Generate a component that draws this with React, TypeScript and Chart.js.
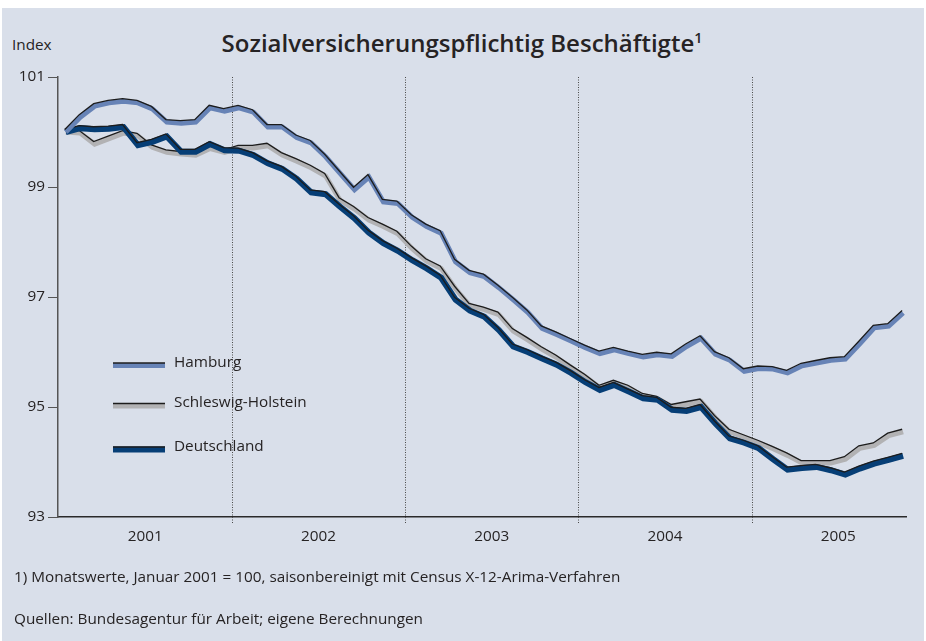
import React, { useEffect, useRef } from 'react';
import { Chart, registerables } from 'chart.js';

Chart.register(...registerables);

// ---- data ----
const YEARS = ['2001', '2002', '2003', '2004', '2005'];
const Y_TICKS = [93, 95, 97, 99, 101];
const SERIES_NAMES = ['Hamburg', 'Schleswig-Holstein', 'Deutschland'];

// monthly index values, Jan 2001 .. Nov 2005
const HAMBURG = [
  100.0, 100.27, 100.47, 100.53, 100.56, 100.53, 100.42, 100.18, 100.16, 100.18, 100.44, 100.38,
  100.44, 100.36, 100.09, 100.09, 99.9, 99.8, 99.55, 99.25, 98.95, 99.18, 98.73, 98.7,
  98.45, 98.28, 98.16, 97.64, 97.44, 97.37, 97.17, 96.95, 96.72, 96.43, 96.32, 96.2,
  96.08, 95.97, 96.04, 95.97, 95.91, 95.95, 95.92, 96.1, 96.25, 95.96, 95.85, 95.65,
  95.7, 95.69, 95.62, 95.75, 95.8, 95.85, 95.87, 96.15, 96.44, 96.47, 96.71,
];
const SCHLESWIG_HOLSTEIN = [
  100.0, 99.98, 99.78, 99.88, 99.98, 99.93, 99.72, 99.63, 99.6, 99.58, 99.7, 99.63,
  99.71, 99.71, 99.75, 99.58, 99.47, 99.35, 99.2, 98.76, 98.6, 98.4, 98.28, 98.15,
  97.88, 97.65, 97.52, 97.15, 96.84, 96.77, 96.68, 96.38, 96.22, 96.05, 95.9, 95.72,
  95.55, 95.35, 95.44, 95.35, 95.2, 95.15, 95.0, 95.05, 95.1, 94.8, 94.55, 94.45,
  94.35, 94.24, 94.12, 93.98, 93.98, 93.98, 94.05, 94.25, 94.3, 94.48, 94.55,
];
const DEUTSCHLAND = [
  100.0, 100.07, 100.05, 100.06, 100.09, 99.76, 99.82, 99.92, 99.64, 99.64, 99.78, 99.67,
  99.66, 99.58, 99.43, 99.33, 99.15, 98.9, 98.87, 98.64, 98.43, 98.17, 97.98, 97.84,
  97.67, 97.52, 97.35, 96.95, 96.75, 96.64, 96.4, 96.1, 96.0, 95.88, 95.77, 95.62,
  95.45, 95.31, 95.4, 95.28, 95.16, 95.13, 94.95, 94.93, 95.0, 94.7, 94.43, 94.35,
  94.25, 94.05, 93.86, 93.89, 93.91, 93.85, 93.77, 93.88, 93.97, 94.04, 94.11,
];

const SERIES_VALUES = [HAMBURG, SCHLESWIG_HOLSTEIN, DEUTSCHLAND];

// ---- styles ----
const FONT = "'Open Sans', 'Noto Sans', sans-serif";
const TEXT = '#262324';
const SMALL = 15.3;
const BAND_COLORS = ['#6783b6', '#b2b2b4', '#063e76'];
const BAND_WIDTHS = [5, 5, 6];
const OUTLINE_COLOR = '#1c1c1c';
const OUTLINE_DX = -1;
const OUTLINE_DY = -2.5;

const yearCenters = YEARS.map((_, k) => 12 * k + 5.5);
const yearBounds = YEARS.slice(1).map((_, k) => 12 * (k + 1) - 0.5);

const offsetPlugin = {
  id: 'outlineOffset',
  beforeDatasetDraw(chart: any, args: any) {
    const ds: any = chart.data.datasets[args.index];
    chart.ctx.save();
    if (ds._outline) chart.ctx.translate(OUTLINE_DX, OUTLINE_DY);
  },
  afterDatasetDraw(chart: any) {
    chart.ctx.restore();
  },
};

const yearLinesPlugin = {
  id: 'yearLines',
  beforeDatasetsDraw(chart: any) {
    const { ctx, chartArea } = chart;
    const xs = chart.scales.x;
    ctx.save();
    ctx.strokeStyle = '#4a4a4a';
    ctx.lineWidth = 1;
    ctx.setLineDash([1, 1.5]);
    yearBounds.forEach((b) => {
      const x = Math.round(xs.getPixelForValue(b)) + 0.5;
      ctx.beginPath();
      ctx.moveTo(x, chartArea.top);
      ctx.lineTo(x, chartArea.bottom + 7);
      ctx.stroke();
    });
    ctx.restore();
  },
};

const legendPlugin = {
  id: 'customLegend',
  afterDatasetsDraw(chart: any) {
    const ctx = chart.ctx;
    const x0 = 113;
    const x1 = 165;
    const rowY = [365.5, 406, 449.5];
    ctx.save();
    SERIES_NAMES.forEach((name, k) => {
      const y = rowY[k];
      ctx.beginPath();
      ctx.strokeStyle = BAND_COLORS[k];
      ctx.lineWidth = BAND_WIDTHS[k];
      ctx.moveTo(x0, y);
      ctx.lineTo(x1, y);
      ctx.stroke();
      ctx.beginPath();
      ctx.strokeStyle = OUTLINE_COLOR;
      ctx.lineWidth = 1.3;
      ctx.moveTo(x0, y + OUTLINE_DY);
      ctx.lineTo(x1, y + OUTLINE_DY);
      ctx.stroke();
      ctx.fillStyle = TEXT;
      ctx.font = `${SMALL}px ${FONT}`;
      ctx.textBaseline = 'middle';
      ctx.textAlign = 'left';
      ctx.fillText(name, 174, y - 3);
    });
    ctx.restore();
  },
};

export default function App() {
  const ref = useRef<HTMLCanvasElement>(null);

  useEffect(() => {
    document.body.style.margin = '0';
    const canvas = ref.current;
    if (!canvas) return;

    const datasets: any[] = [];
    // draw order: Hamburg on top, then Deutschland, then Schleswig-Holstein
    const orderBase = [0, 4, 2];
    SERIES_NAMES.forEach((name, k) => {
      const pts = SERIES_VALUES[k].map((v, i) => ({ x: i, y: v }));
      datasets.push({
        label: name,
        data: pts,
        borderColor: BAND_COLORS[k],
        borderWidth: BAND_WIDTHS[k],
        pointRadius: 0,
        tension: 0,
        fill: false,
        order: orderBase[k] + 1,
      });
      datasets.push({
        label: name + ' (Kontur)',
        data: pts,
        borderColor: OUTLINE_COLOR,
        borderWidth: 1.3,
        pointRadius: 0,
        tension: 0,
        fill: false,
        order: orderBase[k],
        _outline: true,
      });
    });

    const chart = new Chart(canvas, {
      type: 'line',
      data: { datasets },
      plugins: [offsetPlugin, yearLinesPlugin, legendPlugin],
      options: {
        animation: false,
        responsive: false,
        devicePixelRatio: 1,
        layout: { padding: { top: 77, right: 20, left: 0, bottom: 0 } },
        plugins: {
          legend: { display: false },
          title: { display: false },
          tooltip: { enabled: false },
        },
        elements: { line: { borderJoinStyle: 'miter', borderCapStyle: 'butt' } },
        scales: {
          x: {
            type: 'linear',
            min: -0.54,
            max: 58.2,
            afterFit: (s: any) => {
              s.height = 124;
            },
            afterBuildTicks: (s: any) => {
              s.ticks = yearCenters.map((v) => ({ value: v }));
            },
            grid: { display: false, drawTicks: false },
            border: { display: true, color: '#2a2a2a', width: 1.5 },
            ticks: {
              autoSkip: false,
              maxRotation: 0,
              padding: 10,
              color: TEXT,
              font: { family: FONT, size: SMALL },
              callback: (_v: any, i: number) => YEARS[i],
            },
          },
          y: {
            type: 'linear',
            min: 93,
            max: 101,
            afterFit: (s: any) => {
              s.width = 58;
            },
            afterBuildTicks: (s: any) => {
              s.ticks = Y_TICKS.map((v) => ({ value: v }));
            },
            grid: {
              display: true,
              drawOnChartArea: false,
              drawTicks: true,
              tickLength: 10,
              tickColor: '#555',
              tickWidth: 1,
            },
            border: { display: true, color: '#555', width: 1.5 },
            ticks: {
              padding: 3,
              color: TEXT,
              font: { family: FONT, size: SMALL },
              callback: (v: any) => String(v),
            },
          },
        },
      } as any,
    });

    return () => chart.destroy();
  }, []);

  const text: React.CSSProperties = {
    position: 'absolute',
    fontFamily: FONT,
    color: TEXT,
    whiteSpace: 'nowrap',
  };

  return (
    <div style={{ position: 'fixed', left: 0, top: 0, width: 926, height: 641, background: '#ffffff', overflow: 'hidden' }}>
      <div style={{ position: 'absolute', left: 2, top: 8, width: 922, height: 633, background: '#d9dfea' }} />
      <div style={{ ...text, left: 12, top: 34, fontSize: SMALL, lineHeight: '20px' }}>Index</div>
      <div style={{ ...text, left: 0, width: 924, textAlign: 'center', top: 28, fontSize: 24, fontWeight: 600, lineHeight: '30px' }}>
        Sozialversicherungspflichtig Beschäftigte<sup style={{ fontSize: '60%', verticalAlign: 'super', lineHeight: 0 }}>1</sup>
      </div>
      <canvas ref={ref} width={926} height={641} style={{ position: 'absolute', left: 0, top: 0, width: 926, height: 641 }} />
      <div style={{ ...text, left: 14, top: 566, fontSize: SMALL, lineHeight: '20px' }}>
        1) Monatswerte, Januar 2001 = 100, saisonbereinigt mit Census X-12-Arima-Verfahren
      </div>
      <div style={{ ...text, left: 14, top: 608, fontSize: SMALL, lineHeight: '20px' }}>
        Quellen: Bundesagentur für Arbeit; eigene Berechnungen
      </div>
    </div>
  );
}
